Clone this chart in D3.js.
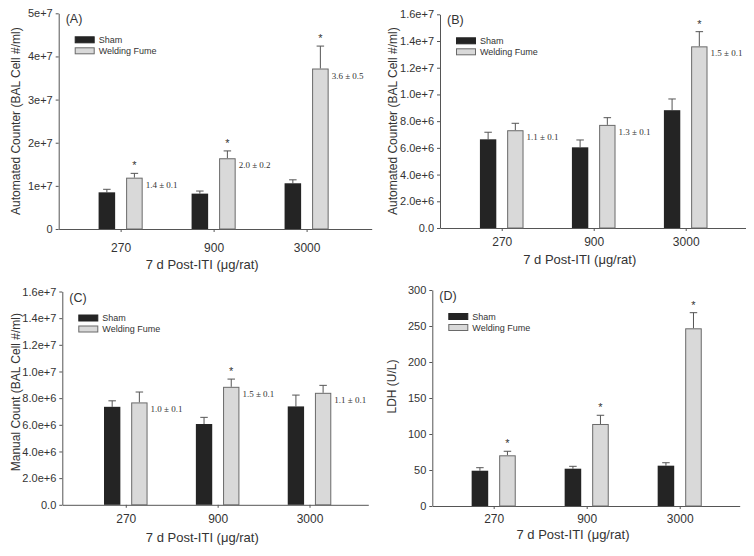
<!DOCTYPE html>
<html>
<head>
<meta charset="utf-8">
<script src="https://cdn.jsdelivr.net/npm/d3@7"></script>
<style>
  html, body { margin: 0; padding: 0; background: #fff; }
  svg { display: block; }
  text { font-family: "Liberation Sans", Arial, sans-serif; fill: #333; }
</style>
</head>
<body>
<svg id="chart" width="754" height="556"></svg>
<script>
// ---------------- DATA ----------------
const categories = ["270", "900", "3000"];
const seriesNames = ["Sham", "Welding Fume"];

// Panel A: Automated counter (BAL cell #/ml)
const shamA = [8.5e6, 8.2e6, 1.06e7];
const shamAErr = [0.7e6, 0.6e6, 0.8e6];
const fumeA = [1.19e7, 1.64e7, 3.72e7];
const fumeAErr = [1.0e6, 1.7e6, 5.2e6];
const starsA = [true, true, true];
const ratiosA = ["1.4 ± 0.1", "2.0 ± 0.2", "3.6 ± 0.5"];
const ticksA = [0, 1e7, 2e7, 3e7, 4e7, 5e7];
const tickLabelsA = ["0", "1e+7", "2e+7", "3e+7", "4e+7", "5e+7"];

// Panel B: Automated counter (BAL cell #/ml)
const shamB = [6.64e6, 6.04e6, 8.82e6];
const shamBErr = [0.53e6, 0.55e6, 0.84e6];
const fumeB = [7.32e6, 7.72e6, 1.36e7];
const fumeBErr = [0.52e6, 0.54e6, 1.1e6];
const starsB = [false, false, true];
const ratiosB = ["1.1 ± 0.1", "1.3 ± 0.1", "1.5 ± 0.1"];
const ticksB = [0, 2e6, 4e6, 6e6, 8e6, 1e7, 1.2e7, 1.4e7, 1.6e7];
const tickLabelsB = ["0.0", "2.0e+6", "4.0e+6", "6.0e+6", "8.0e+6", "1.0e+7", "1.2e+7", "1.4e+7", "1.6e+7"];

// Panel C: Manual count (BAL cell #/ml)
const shamC = [7.35e6, 6.06e6, 7.38e6];
const shamCErr = [0.45e6, 0.5e6, 0.85e6];
const fumeC = [7.68e6, 8.85e6, 8.4e6];
const fumeCErr = [0.78e6, 0.58e6, 0.56e6];
const starsC = [false, true, false];
const ratiosC = ["1.0 ± 0.1", "1.5 ± 0.1", "1.1 ± 0.1"];
const ticksC = [0, 2e6, 4e6, 6e6, 8e6, 1e7, 1.2e7, 1.4e7, 1.6e7];
const tickLabelsC = ["0.0", "2.0e+6", "4.0e+6", "6.0e+6", "8.0e+6", "1.0e+7", "1.2e+7", "1.4e+7", "1.6e+7"];

// Panel D: LDH (U/L)
const shamD = [49, 51.8, 56];
const shamDErr = [4.2, 3.3, 4.1];
const fumeD = [70.4, 113.9, 246.8];
const fumeDErr = [5.6, 12.1, 21.7];
const starsD = [true, true, true];
const ratiosD = [];
const ticksD = [0, 50, 100, 150, 200, 250, 300];
const tickLabelsD = ["0", "50", "100", "150", "200", "250", "300"];

const xTitle = "7 d Post-ITI (\u03bcg/rat)";

// ---------------- LAYOUT ----------------
const panels = [
  { label: "(A)", yTitle: "Automated Counter (BAL Cell #/ml)",
    sham: shamA, shamErr: shamAErr, fume: fumeA, fumeErr: fumeAErr, stars: starsA, ratios: ratiosA,
    ticks: ticksA, tickLabels: tickLabelsA, yMax: 5e7,
    x0: 58.7, x1: 371.7, yTop: 13.3, yBot: 229, xDom: [0.334, 3.70], yTitleX: 15, yTitleDy: 0,
    xTickY: 252, xTitleY: 269 },
  { label: "(B)", yTitle: "Automated Counter (BAL Cell #/ml)",
    sham: shamB, shamErr: shamBErr, fume: fumeB, fumeErr: fumeBErr, stars: starsB, ratios: ratiosB,
    ticks: ticksB, tickLabels: tickLabelsB, yMax: 1.6e7,
    x0: 440, x1: 745.5, yTop: 14.3, yBot: 228, xDom: [0.329, 3.65], yTitleX: 392, yTitleDy: 0,
    xTickY: 246, xTitleY: 264 },
  { label: "(C)", yTitle: "Manual Count (BAL Cell #/ml)",
    sham: shamC, shamErr: shamCErr, fume: fumeC, fumeErr: fumeCErr, stars: starsC, ratios: ratiosC,
    ticks: ticksC, tickLabels: tickLabelsC, yMax: 1.6e7,
    x0: 62.3, x1: 368.3, yTop: 291.5, yBot: 504.8, xDom: [0.309, 3.64], yTitleX: 15, yTitleDy: -6,
    xTickY: 523, xTitleY: 542 },
  { label: "(D)", yTitle: "LDH (U/L)",
    sham: shamD, shamErr: shamDErr, fume: fumeD, fumeErr: fumeDErr, stars: starsD, ratios: ratiosD,
    ticks: ticksD, tickLabels: tickLabelsD, yMax: 300,
    x0: 432.3, x1: 739.7, yTop: 290, yBot: 506, xDom: [0.34, 3.645], yTitleX: 391, yTitleDy: -11.5,
    xTickY: 523, xTitleY: 539 }
];

const AXIS = "#555";
const SHAM_FILL = "#242424";
const FUME_FILL = "#d9d9d9";
const FUME_STROKE = "#6a6a6a";
const ERR = "#555";

const svg = d3.select("#chart");

panels.forEach(p => {
  const g = svg.append("g");
  const x = d3.scaleLinear().domain(p.xDom).range([p.x0, p.x1]);
  const y = d3.scaleLinear().domain([0, p.yMax]).range([p.yBot, p.yTop]);
  const unit = x(2) - x(1);
  const bw = unit * 0.178;
  const half = unit * 0.059;
  const capW = 7.5;

  // Y axis
  const yAxis = d3.axisLeft(y).tickValues(p.ticks)
    .tickFormat((d, i) => p.tickLabels[i]).tickSize(3).tickSizeOuter(0).tickPadding(3);
  const ya = g.append("g").attr("transform", `translate(${p.x0},0)`).call(yAxis);
  ya.select(".domain").attr("stroke", AXIS);
  ya.selectAll(".tick line").attr("stroke", AXIS);
  ya.selectAll(".tick text").attr("fill", "#333").style("font-size", "11px")
    .style("font-family", '"Liberation Sans", Arial, sans-serif');

  // X axis
  const xAxis = d3.axisBottom(x).tickValues([1, 2, 3])
    .tickFormat((d, i) => categories[i]).tickSize(3).tickSizeOuter(0);
  const xa = g.append("g").attr("transform", `translate(0,${p.yBot})`).call(xAxis);
  xa.select(".domain").attr("stroke", AXIS);
  xa.selectAll(".tick line").attr("stroke", AXIS);
  xa.selectAll(".tick text").attr("fill", "#333").style("font-size", "12px")
    .style("font-family", '"Liberation Sans", Arial, sans-serif')
    .attr("y", null).attr("dy", null)
    .attr("transform", `translate(0,${p.xTickY - p.yBot})`);

  const rows = categories.map((c, i) => ({
    i, c,
    sham: p.sham[i], shamErr: p.shamErr[i],
    fume: p.fume[i], fumeErr: p.fumeErr[i],
    star: p.stars[i], ratio: p.ratios[i]
  }));

  // Sham bars + error
  rows.forEach(r => {
    const cx = x(r.i + 1);
    // error bars (drawn first, bar covers lower part)
    const sL = cx - half - bw, sC = cx - half - bw / 2;
    g.append("line").attr("x1", sC).attr("x2", sC)
      .attr("y1", y(r.sham)).attr("y2", y(r.sham + r.shamErr)).attr("stroke", ERR).attr("stroke-width", 1);
    g.append("line").attr("x1", sC - capW / 2).attr("x2", sC + capW / 2)
      .attr("y1", y(r.sham + r.shamErr)).attr("y2", y(r.sham + r.shamErr)).attr("stroke", ERR).attr("stroke-width", 1);
    g.append("rect").attr("x", sL).attr("y", y(r.sham)).attr("width", bw)
      .attr("height", y(0) - y(r.sham)).attr("fill", SHAM_FILL);

    const fL = cx + half, fC = cx + half + bw / 2;
    g.append("line").attr("x1", fC).attr("x2", fC)
      .attr("y1", y(r.fume)).attr("y2", y(r.fume + r.fumeErr)).attr("stroke", ERR).attr("stroke-width", 1);
    g.append("line").attr("x1", fC - capW / 2).attr("x2", fC + capW / 2)
      .attr("y1", y(r.fume + r.fumeErr)).attr("y2", y(r.fume + r.fumeErr)).attr("stroke", ERR).attr("stroke-width", 1);
    g.append("rect").attr("x", fL + 0.5).attr("y", y(r.fume) + 0.5).attr("width", bw - 1)
      .attr("height", y(0) - y(r.fume) - 0.5).attr("fill", FUME_FILL)
      .attr("stroke", FUME_STROKE).attr("stroke-width", 1);

    if (r.star) {
      g.append("text").attr("x", fC).attr("y", y(r.fume + r.fumeErr) - 4)
        .attr("text-anchor", "middle").style("font-size", "11px").text("*");
    }
    if (r.ratio) {
      g.append("text").attr("x", fL + bw + 3).attr("y", y(r.fume) + 10)
        .style("font-family", '"Liberation Serif", "Times New Roman", serif')
        .style("font-size", "9px").attr("fill", "#444").text(r.ratio);
    }
  });

  // Panel label
  g.append("text").attr("x", p.x0 + 7).attr("y", p.yTop + 10)
    .style("font-size", "12.5px").text(p.label);

  // Legend
  const lx = p.x0 + 16, ly = p.yTop + 23;
  const legendFills = [SHAM_FILL, FUME_FILL];
  seriesNames.forEach((s, i) => {
    g.append("rect").attr("x", lx + 0.5).attr("y", ly + i * 11 + 0.5).attr("width", 19).attr("height", 6)
      .attr("fill", legendFills[i]).attr("stroke", i === 0 ? SHAM_FILL : FUME_STROKE);
    g.append("text").attr("x", lx + 24).attr("y", ly + i * 11 + 6.5)
      .style("font-size", "9px").text(s);
  });

  // Axis titles
  const yc = (p.yTop + p.yBot) / 2 + p.yTitleDy;
  g.append("text").attr("transform", `translate(${p.yTitleX + 4.5},${yc}) rotate(-90)`)
    .attr("text-anchor", "middle").style("font-size", "12px").text(p.yTitle);
  g.append("text").attr("x", (p.x0 + p.x1) / 2 - 13).attr("y", p.xTitleY)
    .attr("text-anchor", "middle").style("font-size", "13px").text(xTitle);
});
</script>
</body>
</html>
